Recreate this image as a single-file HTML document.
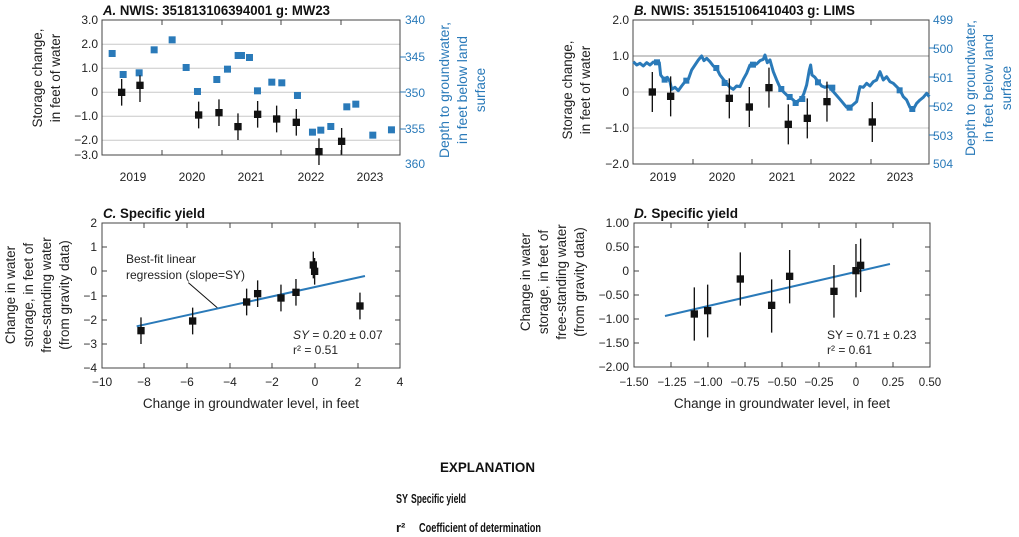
<!DOCTYPE html>
<html><head><meta charset="utf-8"><style>
html,body{margin:0;padding:0;background:#fff;}
svg{display:block;font-family:"Liberation Sans Narrow","Liberation Sans",sans-serif;}
.t{font-size:12px;fill:#222}
.ti{font-size:14px;font-weight:bold;fill:#111}
.al{font-size:13.5px;fill:#222}
.bl{font-size:13.5px;fill:#2a7ab9}
</style></head><body>
<svg width="1019" height="537" viewBox="0 0 1019 537" xmlns="http://www.w3.org/2000/svg">
<!-- Panel A -->
<text x="103" y="15" class="ti" textLength="227" lengthAdjust="spacingAndGlyphs"><tspan font-style="italic">A.</tspan> NWIS: 351813106394001   g: MW23</text>
<g stroke="#c8c8c8" stroke-width="1">
<line x1="102" y1="44.3" x2="400" y2="44.3"/><line x1="102" y1="68.3" x2="400" y2="68.3"/><line x1="102" y1="92.3" x2="400" y2="92.3"/><line x1="102" y1="116.3" x2="400" y2="116.3"/><line x1="102" y1="140.3" x2="400" y2="140.3"/>
</g>
<g stroke="#444" stroke-width="1" fill="none">
<rect x="102" y="20" width="298" height="135"/>
<path d="M162 20v5M222 20v5M281 20v5M341 20v5M162 155v-5M222 155v-5M281 155v-5M341 155v-5"/>
</g>
<g stroke="#2a7ab9" stroke-width="1"><path d="M400 57h6M400 92h6M400 129h6"/></g>
<g class="t" text-anchor="end">
<text x="98" y="24">3.0</text><text x="98" y="48">2.0</text><text x="98" y="72">1.0</text><text x="98" y="96">0</text><text x="98" y="120">−1.0</text><text x="98" y="144">−2.0</text><text x="98" y="159">−3.0</text>
</g>
<g class="t" text-anchor="middle">
<text x="133" y="181">2019</text><text x="192" y="181">2020</text><text x="251" y="181">2021</text><text x="311" y="181">2022</text><text x="370" y="181">2023</text>
</g>
<g class="t" style="fill:#2a7ab9">
<text x="405" y="24">340</text><text x="405" y="61">345</text><text x="405" y="97">350</text><text x="405" y="133">355</text><text x="405" y="168">360</text>
</g>
<g class="al" text-anchor="middle">
<text transform="translate(42,78) rotate(-90)">Storage change,</text>
<text transform="translate(60,78) rotate(-90)">in feet of water</text>
</g>
<g class="bl" text-anchor="middle">
<text transform="translate(449,90) rotate(-90)" textLength="136" lengthAdjust="spacingAndGlyphs">Depth to groundwater,</text>
<text transform="translate(467,90) rotate(-90)" textLength="108" lengthAdjust="spacingAndGlyphs">in feet below land</text>
<text transform="translate(485,90) rotate(-90)">surface</text>
</g>
<g transform="scale(0.3333)">
<g fill="#2a7ab9">
<rect x="326" y="150" width="21" height="21"/><rect x="359" y="213" width="21" height="21"/><rect x="407" y="208" width="21" height="21"/><rect x="452" y="139" width="21" height="21"/><rect x="506" y="109" width="21" height="21"/><rect x="548" y="192" width="21" height="21"/><rect x="582" y="264" width="21" height="21"/><rect x="640" y="228" width="21" height="21"/><rect x="672" y="197" width="21" height="21"/><rect x="704" y="156" width="21" height="21"/><rect x="714" y="156" width="21" height="21"/><rect x="738" y="162" width="21" height="21"/><rect x="762" y="262" width="21" height="21"/><rect x="805" y="236" width="21" height="21"/><rect x="835" y="238" width="21" height="21"/><rect x="882" y="276" width="21" height="21"/><rect x="927" y="386" width="21" height="21"/><rect x="952" y="380" width="21" height="21"/><rect x="982" y="369" width="21" height="21"/><rect x="1030" y="310" width="21" height="21"/><rect x="1057" y="302" width="21" height="21"/><rect x="1108" y="395" width="21" height="21"/><rect x="1164" y="379" width="21" height="21"/>
</g>
<g stroke="#111" stroke-width="4">
<path d="M365 237v80M420 226v80M596 305v80M657 298v80M714 340v80M773 303v80M830 317v80M889 327v80M957 415v80M1025 384v80"/>
</g>
<g fill="#111">
<rect x="354" y="266" width="22" height="22"/><rect x="409" y="245" width="22" height="22"/><rect x="585" y="334" width="22" height="22"/><rect x="646" y="327" width="22" height="22"/><rect x="703" y="369" width="22" height="22"/><rect x="762" y="332" width="22" height="22"/><rect x="819" y="346" width="22" height="22"/><rect x="878" y="356" width="22" height="22"/><rect x="946" y="444" width="22" height="22"/><rect x="1014" y="413" width="22" height="22"/>
</g>
</g>

<!-- Panel B -->
<text x="634" y="15" class="ti" textLength="221" lengthAdjust="spacingAndGlyphs"><tspan font-style="italic">B.</tspan> NWIS: 351515106410403   g: LIMS</text>
<g stroke="#c8c8c8"><line x1="633" y1="56" x2="929" y2="56" stroke-width="2"/><line x1="633" y1="92" x2="929" y2="92"/><line x1="633" y1="128" x2="929" y2="128"/></g>
<g stroke="#444" stroke-width="1" fill="none">
<rect x="633" y="20" width="296" height="144"/>
<path d="M693 20v5M752 20v5M811 20v5M871 20v5M693 164v-5M752 164v-5M811 164v-5M871 164v-5"/>
</g>
<g stroke="#2a7ab9"><path d="M929 48h6M929 77h6M929 106h6M929 135h6"/></g>
<g class="t" text-anchor="end">
<text x="629" y="24">2.0</text><text x="629" y="60">1.0</text><text x="629" y="96">0</text><text x="629" y="132">−1.0</text><text x="629" y="168">−2.0</text>
</g>
<g class="t" text-anchor="middle">
<text x="663" y="181">2019</text><text x="722" y="181">2020</text><text x="782" y="181">2021</text><text x="842" y="181">2022</text><text x="900" y="181">2023</text>
</g>
<g class="t" style="fill:#2a7ab9">
<text x="933" y="24">499</text><text x="933" y="53">500</text><text x="933" y="82">501</text><text x="933" y="111">502</text><text x="933" y="140">503</text><text x="933" y="168">504</text>
</g>
<g class="al" text-anchor="middle">
<text transform="translate(572,90) rotate(-90)">Storage change,</text>
<text transform="translate(590,90) rotate(-90)">in feet of water</text>
</g>
<g class="bl" text-anchor="middle">
<text transform="translate(975,88) rotate(-90)" textLength="136" lengthAdjust="spacingAndGlyphs">Depth to groundwater,</text>
<text transform="translate(993,88) rotate(-90)" textLength="108" lengthAdjust="spacingAndGlyphs">in feet below land</text>
<text transform="translate(1011,88) rotate(-90)">surface</text>
</g>
<g transform="translate(500,0) scale(0.3333)">
<polyline fill="none" stroke="#2a7ab9" stroke-width="9" stroke-linejoin="round" points="400,185 410,195 420,190 430,198 440,188 450,195 460,186 470,190 478,188 482,225 492,238 502,232 510,245 515,268 525,262 535,272 545,258 555,245 565,238 575,210 585,195 595,180 605,168 612,182 620,175 630,185 640,198 650,205 660,225 670,238 680,250 690,262 700,268 710,258 720,260 730,238 740,220 750,195 760,196 770,192 780,182 790,178 795,165 802,188 810,180 820,215 830,240 840,262 850,275 860,285 870,292 880,300 890,312 895,302 905,295 912,280 920,255 928,210 932,195 936,225 945,232 955,246 965,258 975,262 985,258 1000,275 1020,298 1040,322 1055,318 1070,305 1080,260 1090,262 1100,250 1110,258 1120,245 1130,240 1140,215 1150,240 1160,230 1170,245 1180,250 1192,262 1200,270 1210,290 1220,300 1230,322 1240,328 1250,310 1260,300 1270,292 1280,280 1288,290"/>
<g fill="#2a7ab9">
<rect x="462" y="178" width="18" height="18"/><rect x="485" y="230" width="18" height="18"/><rect x="550" y="233" width="18" height="18"/><rect x="640" y="195" width="18" height="18"/><rect x="665" y="240" width="18" height="18"/><rect x="750" y="185" width="18" height="18"/><rect x="835" y="258" width="18" height="18"/><rect x="860" y="282" width="18" height="18"/><rect x="878" y="300" width="18" height="18"/><rect x="898" y="288" width="18" height="18"/><rect x="945" y="238" width="18" height="18"/><rect x="988" y="254" width="18" height="18"/><rect x="1040" y="314" width="18" height="18"/><rect x="1190" y="262" width="18" height="18"/><rect x="1228" y="318" width="18" height="18"/>
</g>
<g stroke="#111" stroke-width="4">
<path d="M457 216v120M512 229v120M688 235v120M748 261v120M807 203v120M865 313v120M922 295v120M981 245v120M1117 306v120"/>
</g>
<g fill="#111">
<rect x="446" y="265" width="22" height="22"/><rect x="501" y="278" width="22" height="22"/><rect x="677" y="284" width="22" height="22"/><rect x="737" y="310" width="22" height="22"/><rect x="796" y="252" width="22" height="22"/><rect x="854" y="362" width="22" height="22"/><rect x="911" y="344" width="22" height="22"/><rect x="970" y="294" width="22" height="22"/><rect x="1106" y="355" width="22" height="22"/>
</g>
</g>

<!-- Panel C -->
<text x="103" y="218" class="ti" textLength="102" lengthAdjust="spacingAndGlyphs"><tspan font-style="italic">C.</tspan> Specific yield</text>
<g stroke="#444" stroke-width="1" fill="none">
<rect x="102" y="223" width="298" height="145"/>
<path d="M102 247h5M102 271h5M102 296h5M102 320h5M102 344h5M400 247h-5M400 271h-5M400 296h-5M400 320h-5M400 344h-5M144 223v5M187 223v5M230 223v5M272 223v5M315 223v5M358 223v5M144 368v-5M187 368v-5M230 368v-5M272 368v-5M315 368v-5M358 368v-5"/>
</g>
<g class="t" text-anchor="end">
<text x="97" y="227">2</text><text x="97" y="251">1</text><text x="97" y="275">0</text><text x="97" y="300">−1</text><text x="97" y="324">−2</text><text x="97" y="348">−3</text><text x="97" y="372">−4</text>
</g>
<g class="t" text-anchor="middle">
<text x="102" y="386">−10</text><text x="144" y="386">−8</text><text x="187" y="386">−6</text><text x="230" y="386">−4</text><text x="272" y="386">−2</text><text x="315" y="386">0</text><text x="358" y="386">2</text><text x="400" y="386">4</text>
</g>
<text x="251" y="408" class="al" text-anchor="middle">Change in groundwater level, in feet</text>
<g class="al" text-anchor="middle">
<text transform="translate(15,295) rotate(-90)">Change in water</text>
<text transform="translate(33,295) rotate(-90)">storage, in feet of</text>
<text transform="translate(51,295) rotate(-90)">free-standing water</text>
<text transform="translate(69,295) rotate(-90)">(from gravity data)</text>
</g>
<g class="t">
<text x="126" y="263">Best-fit linear</text><text x="126" y="279">regression (slope=SY)</text>
<text x="293" y="339"><tspan font-style="italic">SY</tspan> = 0.20 ± 0.07</text>
<text x="293" y="354">r² = 0.51</text>
</g>
<g transform="translate(0,190) scale(0.3333)">
<line x1="565" y1="278" x2="655" y2="356" stroke="#111" stroke-width="3"/>
<line x1="410" y1="409" x2="1095" y2="258" stroke="#2a7ab9" stroke-width="6"/>
<g stroke="#111" stroke-width="4">
<path d="M423 382v80M578 353v80M740 296v80M773 271v80M843 284v80M888 267v80M940 185v80M944 204v80M1080 308v80"/>
</g>
<g fill="#111">
<rect x="412" y="411" width="22" height="22"/><rect x="567" y="382" width="22" height="22"/><rect x="729" y="325" width="22" height="22"/><rect x="762" y="300" width="22" height="22"/><rect x="832" y="313" width="22" height="22"/><rect x="877" y="296" width="22" height="22"/><rect x="929" y="214" width="22" height="22"/><rect x="933" y="233" width="22" height="22"/><rect x="1069" y="337" width="22" height="22"/>
</g>
</g>

<!-- Panel D -->
<text x="634" y="218" class="ti" textLength="104" lengthAdjust="spacingAndGlyphs"><tspan font-style="italic">D.</tspan> Specific yield</text>
<g stroke="#444" stroke-width="1" fill="none">
<rect x="634" y="223" width="296" height="144"/>
<path d="M634 247h5M634 271h5M634 295h5M634 319h5M634 343h5M930 247h-5M930 271h-5M930 295h-5M930 319h-5M930 343h-5M671 223v5M708 223v5M745 223v5M782 223v5M819 223v5M856 223v5M893 223v5M671 367v-5M708 367v-5M745 367v-5M782 367v-5M819 367v-5M856 367v-5M893 367v-5"/>
</g>
<g class="t" text-anchor="end">
<text x="629" y="227">1.00</text><text x="629" y="251">0.50</text><text x="629" y="275">0</text><text x="629" y="299">−0.50</text><text x="629" y="323">−1.00</text><text x="629" y="347">−1.50</text><text x="629" y="371">−2.00</text>
</g>
<g class="t" text-anchor="middle" style="font-size:11.5px">
<text x="634" y="386">−1.50</text><text x="672" y="386">−1.25</text><text x="708" y="386">−1.00</text><text x="745" y="386">−0.75</text><text x="782" y="386">−0.50</text><text x="819" y="386">−0.25</text><text x="856" y="386">0</text><text x="893" y="386">0.25</text><text x="930" y="386">0.50</text>
</g>
<text x="782" y="408" class="al" text-anchor="middle">Change in groundwater level, in feet</text>
<g class="al" text-anchor="middle">
<text transform="translate(530,282) rotate(-90)">Change in water</text>
<text transform="translate(548,282) rotate(-90)">storage, in feet of</text>
<text transform="translate(566,282) rotate(-90)">free-standing water</text>
<text transform="translate(584,282) rotate(-90)">(from gravity data)</text>
</g>
<g class="t">
<text x="827" y="339">SY = 0.71 ± 0.23</text>
<text x="827" y="354">r² = 0.61</text>
</g>
<g transform="translate(500,190) scale(0.3333)">
<line x1="495" y1="378" x2="1170" y2="222" stroke="#2a7ab9" stroke-width="6"/>
<g stroke="#111" stroke-width="4">
<path d="M583 292v160M623 284v158M721 187v160M815 268v160M869 180v160M1002 225v158M1068 162v160M1082 146v160"/>
</g>
<g fill="#111">
<rect x="572" y="361" width="22" height="22"/><rect x="612" y="351" width="22" height="22"/><rect x="710" y="256" width="22" height="22"/><rect x="804" y="335" width="22" height="22"/><rect x="858" y="248" width="22" height="22"/><rect x="991" y="293" width="22" height="22"/><rect x="1057" y="231" width="22" height="22"/><rect x="1071" y="215" width="22" height="22"/>
</g>
</g>

<!-- Explanation -->
<text x="440" y="472" textLength="95" lengthAdjust="spacingAndGlyphs" style="font-size:14px;font-weight:bold;fill:#111">EXPLANATION</text>
<g style="font-size:13px;font-weight:bold;fill:#111">
<text x="396" y="503" textLength="12" lengthAdjust="spacingAndGlyphs">SY</text><text x="411" y="503" textLength="55" lengthAdjust="spacingAndGlyphs">Specific yield</text>
<text x="396" y="532">r²</text><text x="419" y="532" textLength="122" lengthAdjust="spacingAndGlyphs">Coefficient of determination</text>
</g>
</svg>
</body></html>
